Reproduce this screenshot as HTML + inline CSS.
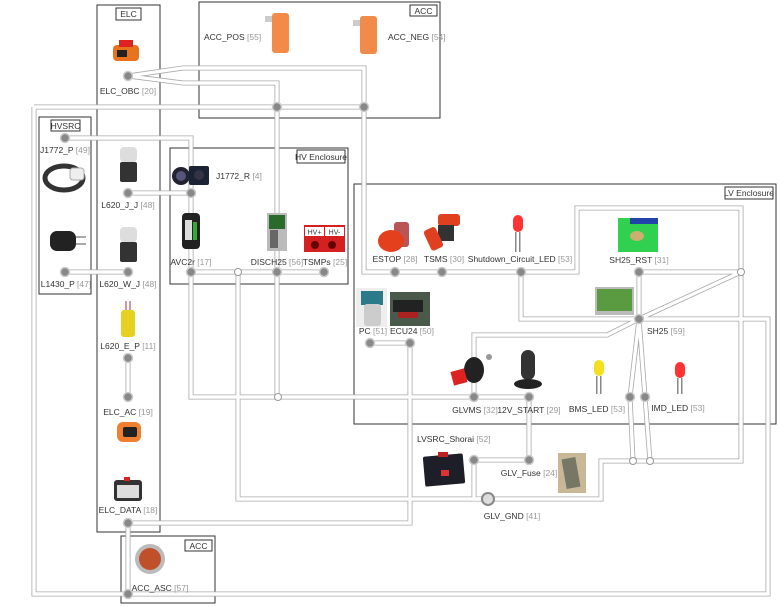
<!DOCTYPE html>
<html><head><meta charset="utf-8"><style>
html,body{margin:0;padding:0;background:#fff}
svg{display:block}
text{font-family:"Liberation Sans",sans-serif;font-size:8.5px;fill:#333}
.n{fill:#999}
.box{fill:none;stroke:#333;stroke-width:1}
.tt{fill:#fff;stroke:#333;stroke-width:1}
</style></head><body>
<svg width="780" height="607" viewBox="0 0 780 607">
<g>
<rect class="box" x="97" y="5" width="63" height="527"/>
<rect class="tt" x="116" y="8" width="25" height="12"/><text x="128.5" y="17" text-anchor="middle">ELC</text>
<rect class="box" x="199" y="2" width="241" height="116"/>
<rect class="tt" x="410" y="5" width="27" height="11"/><text x="423.5" y="14" text-anchor="middle">ACC</text>
<rect class="box" x="39" y="117" width="52" height="177"/>
<rect class="tt" x="51" y="120" width="29" height="11"/><text x="65.5" y="129" text-anchor="middle">HVSRC</text>
<rect class="box" x="170" y="148" width="178" height="136"/>
<rect class="tt" x="297" y="150" width="48" height="13"/><text x="321" y="160" text-anchor="middle">HV Enclosure</text>
<rect class="box" x="354" y="184" width="422" height="240"/>
<rect class="tt" x="725" y="187" width="48" height="12"/><text x="749" y="196" text-anchor="middle">LV Enclosure</text>
<rect class="box" x="121" y="536" width="94" height="67"/>
<rect class="tt" x="185" y="540" width="27" height="11"/><text x="198.5" y="549" text-anchor="middle">ACC</text>
</g>
<g id="wires" fill="none" stroke-linejoin="miter"></g>
<g id="nodes"></g>
<g>
<g><rect x="113" y="45" width="26" height="16" rx="4" fill="#e8731e"/><rect x="119" y="40" width="14" height="7" fill="#d22"/><rect x="117" y="50" width="10" height="7" fill="#222"/></g>
<g><rect x="265" y="16" width="8" height="6" fill="#ccc"/><rect x="272" y="13" width="17" height="40" rx="3" fill="#f28a4a"/></g>
<g><rect x="353" y="20" width="8" height="6" fill="#ccc"/><rect x="360" y="16" width="17" height="38" rx="3" fill="#f28a4a"/></g>
<g><ellipse cx="64" cy="178" rx="19" ry="12" fill="none" stroke="#333" stroke-width="5"/><rect x="70" y="168" width="14" height="12" rx="3" fill="#eee" stroke="#aaa"/></g>
<g><rect x="120" y="147" width="17" height="15" rx="4" fill="#ddd"/><rect x="120" y="162" width="17" height="20" rx="2" fill="#333"/></g>
<g><rect x="50" y="231" width="26" height="20" rx="7" fill="#222"/><rect x="76" y="236" width="10" height="2" fill="#aaa"/><rect x="76" y="243" width="10" height="2" fill="#aaa"/></g>
<g><rect x="120" y="227" width="17" height="15" rx="4" fill="#ddd"/><rect x="120" y="242" width="17" height="20" rx="2" fill="#333"/></g>
<g><rect x="121" y="310" width="14" height="27" rx="3" fill="#e8d020"/><rect x="125" y="301" width="2" height="9" fill="#c9a"/><rect x="129" y="301" width="2" height="9" fill="#c9a"/></g>
<g><rect x="117" y="422" width="24" height="20" rx="6" fill="#f08030"/><rect x="123" y="427" width="14" height="10" rx="2" fill="#222"/></g>
<g><rect x="114" y="480" width="28" height="21" rx="3" fill="#333"/><rect x="117" y="485" width="22" height="13" fill="#ddd"/><rect x="124" y="477" width="6" height="4" fill="#d22"/></g>
<g><circle cx="150" cy="559" r="15" fill="#bbb"/><circle cx="150" cy="559" r="11" fill="#c0502a"/></g>
<g><ellipse cx="181" cy="176" rx="9" ry="9" fill="#223"/><circle cx="181" cy="176" r="5" fill="#557"/><rect x="189" y="166" width="20" height="19" rx="2" fill="#1a2233"/><circle cx="199" cy="175" r="5" fill="#334"/></g>
<g><rect x="182" y="213" width="18" height="36" rx="4" fill="#222"/><rect x="185" y="220" width="7" height="20" fill="#ddd"/><rect x="193" y="222" width="4" height="18" fill="#3a3"/></g>
<g><rect x="267" y="213" width="20" height="38" fill="#bbb"/><rect x="269" y="215" width="16" height="14" fill="#2a6a2a"/><rect x="270" y="230" width="8" height="18" fill="#666"/></g>
<g><rect x="304" y="225" width="41" height="27" fill="#d42020"/><rect x="305" y="227" width="19" height="9" fill="#fff"/><rect x="325" y="227" width="19" height="9" fill="#fff"/><text x="314.5" y="234.5" text-anchor="middle" style="font-size:7px">HV+</text><text x="334.5" y="234.5" text-anchor="middle" style="font-size:7px">HV-</text><circle cx="315" cy="245" r="4" fill="#600"/><circle cx="332" cy="245" r="4" fill="#600"/></g>
<g><rect x="394" y="222" width="15" height="25" rx="3" fill="#b55"/><ellipse cx="391" cy="241" rx="13" ry="11" fill="#e5401e"/></g>
<g><rect x="438" y="214" width="22" height="12" rx="3" fill="#e04020"/><rect x="438" y="225" width="16" height="16" fill="#333"/><rect x="427" y="228" width="13" height="22" rx="3" fill="#e04020" transform="rotate(-25 433 239)"/></g>
<g><rect x="513" y="215" width="10" height="17" rx="5" fill="#f33"/><rect x="515" y="232" width="1.5" height="20" fill="#888"/><rect x="519" y="232" width="1.5" height="20" fill="#888"/></g>
<g><rect x="618" y="218" width="40" height="34" fill="#30d050"/><rect x="630" y="218" width="28" height="6" fill="#2244aa"/><ellipse cx="637" cy="236" rx="7" ry="5" fill="#c9b070"/></g>
<g><rect x="595" y="287" width="39" height="28" fill="#bbb"/><rect x="597" y="289" width="35" height="22" fill="#5a9a40"/></g>
<g><rect x="356" y="288" width="31" height="39" fill="#eee"/><rect x="361" y="291" width="22" height="14" fill="#2a7a8a"/><rect x="364" y="304" width="17" height="22" rx="3" fill="#ccc"/></g>
<g><rect x="390" y="292" width="40" height="34" fill="#4a5a4a"/><rect x="393" y="300" width="30" height="12" fill="#222"/><rect x="398" y="312" width="20" height="6" fill="#a22"/></g>
<g><ellipse cx="474" cy="370" rx="10" ry="13" fill="#222"/><rect x="452" y="370" width="14" height="14" fill="#d22" transform="rotate(-15 459 377)"/><circle cx="489" cy="357" r="3" fill="#999"/></g>
<g><rect x="521" y="350" width="14" height="30" rx="7" fill="#333"/><ellipse cx="528" cy="384" rx="14" ry="5" fill="#222"/></g>
<g><rect x="594" y="360" width="10" height="16" rx="5" fill="#f5e020"/><rect x="596" y="376" width="1.5" height="18" fill="#888"/><rect x="600" y="376" width="1.5" height="18" fill="#888"/></g>
<g><rect x="675" y="362" width="10" height="16" rx="5" fill="#f33"/><rect x="677" y="378" width="1.5" height="16" fill="#888"/><rect x="681" y="378" width="1.5" height="16" fill="#888"/></g>
<g><rect x="424" y="455" width="40" height="30" rx="2" fill="#1e1e28" transform="rotate(-5 444 470)"/><rect x="438" y="452" width="10" height="5" fill="#b22"/><rect x="441" y="470" width="8" height="6" fill="#d33"/></g>
<g><rect x="558" y="453" width="28" height="40" fill="#c8b898"/><rect x="564" y="458" width="14" height="30" fill="#776" transform="rotate(-10 571 473)"/></g>
</g>
<g>
<text x="128" y="94" text-anchor="middle">ELC_OBC <tspan class="n">[20]</tspan></text>
<text x="204" y="40">ACC_POS <tspan class="n">[55]</tspan></text>
<text x="388" y="40">ACC_NEG <tspan class="n">[54]</tspan></text>
<text x="65" y="153" text-anchor="middle">J1772_P <tspan class="n">[49]</tspan></text>
<text x="128" y="208" text-anchor="middle">L620_J_J <tspan class="n">[48]</tspan></text>
<text x="216" y="179">J1772_R <tspan class="n">[4]</tspan></text>
<text x="66" y="287" text-anchor="middle">L1430_P <tspan class="n">[47]</tspan></text>
<text x="128" y="287" text-anchor="middle">L620_W_J <tspan class="n">[48]</tspan></text>
<text x="191" y="265" text-anchor="middle">AVC2r <tspan class="n">[17]</tspan></text>
<text x="277" y="265" text-anchor="middle">DISCH25 <tspan class="n">[56]</tspan></text>
<text x="325" y="265" text-anchor="middle">TSMPs <tspan class="n">[25]</tspan></text>
<text x="395" y="262" text-anchor="middle">ESTOP <tspan class="n">[28]</tspan></text>
<text x="444" y="262" text-anchor="middle">TSMS <tspan class="n">[30]</tspan></text>
<text x="520" y="262" text-anchor="middle">Shutdown_Circuit_LED <tspan class="n">[53]</tspan></text>
<text x="639" y="263" text-anchor="middle">SH25_RST <tspan class="n">[31]</tspan></text>
<text x="647" y="334">SH25 <tspan class="n">[59]</tspan></text>
<text x="373" y="334" text-anchor="middle">PC <tspan class="n">[51]</tspan></text>
<text x="412" y="334" text-anchor="middle">ECU24 <tspan class="n">[50]</tspan></text>
<text x="128" y="349" text-anchor="middle">L620_E_P <tspan class="n">[11]</tspan></text>
<text x="128" y="415" text-anchor="middle">ELC_AC <tspan class="n">[19]</tspan></text>
<text x="475" y="413" text-anchor="middle">GLVMS <tspan class="n">[32]</tspan></text>
<text x="529" y="413" text-anchor="middle">12V_START <tspan class="n">[29]</tspan></text>
<text x="597" y="412" text-anchor="middle">BMS_LED <tspan class="n">[53]</tspan></text>
<text x="678" y="411" text-anchor="middle">IMD_LED <tspan class="n">[53]</tspan></text>
<text x="417" y="442">LVSRC_Shorai <tspan class="n">[52]</tspan></text>
<text x="529" y="476" text-anchor="middle">GLV_Fuse <tspan class="n">[24]</tspan></text>
<text x="512" y="519" text-anchor="middle">GLV_GND <tspan class="n">[41]</tspan></text>
<text x="128" y="513" text-anchor="middle">ELC_DATA <tspan class="n">[18]</tspan></text>
<text x="160" y="591" text-anchor="middle">ACC_ASC <tspan class="n">[57]</tspan></text>
</g>
</svg>
<script>
const wirePaths = [
 "M128,76 L183,68 L364,68 L364,107",
 "M128,76 L183,83 L277,83 L277,107",
 "M34,107 L364,107",
 "M34,107 L34,594 L768,594 L768,319 L521,319 L521,272",
 "M364,107 L364,272 L577,272 L577,208 L741,208 L741,272 L741,461 L601,461 L601,499 L238,499 L238,272",
 "M65,138 L191,138 L191,193 L128,193",
 "M191,193 L191,272 L324,272",
 "M65,272 L128,272",
 "M277,107 L277,272",
 "M191,272 L191,397 L529,397",
 "M277,272 L277,397",
 "M639,272 L741,272",
 "M639,272 L639,319",
 "M639,319 L741,272",
 "M639,319 L607,335 L474,335 L474,397",
 "M639,319 L630,397 L633,461",
 "M639,319 L645,397 L650,461",
 "M370,343 L410,343 L410,523 L128,523 L128,594",
 "M128,358 L128,397",
 "M529,397 L529,460 L474,460 L474,499 L488,499"
];
const nodePts = [[128,76],[277,107],[364,107],[65,138],[128,193],[191,193],[65,272],[128,272],[191,272],[277,272],[324,272],[395,272],[442,272],[521,272],[639,272],[639,319],[370,343],[410,343],[474,397],[529,397],[630,397],[645,397],[474,460],[529,460],[128,358],[128,397],[128,523],[128,594]];
const whitePts = [[238,272],[741,272],[633,461],[650,461],[278,397]];
const NS="http://www.w3.org/2000/svg";
const wg=document.getElementById('wires');
wirePaths.forEach(d=>{
 const a=document.createElementNS(NS,'path');a.setAttribute('d',d);a.setAttribute('stroke','#aaa');a.setAttribute('stroke-width','5');
 
 
 wg.appendChild(a);
});
wirePaths.forEach(d=>{
 const b=document.createElementNS(NS,'path');b.setAttribute('d',d);b.setAttribute('stroke','#fff');b.setAttribute('stroke-width','3.4');
 
 
 wg.appendChild(b);
});
const ng=document.getElementById('nodes');
nodePts.forEach(p=>{
 const c=document.createElementNS(NS,'circle');c.setAttribute('cx',p[0]);c.setAttribute('cy',p[1]);c.setAttribute('r','4.5');c.setAttribute('fill','#888');c.setAttribute('stroke','#ccc');c.setAttribute('stroke-width','1.5');
 
 
 ng.appendChild(c);
});
whitePts.forEach(p=>{
 const c=document.createElementNS(NS,'circle');c.setAttribute('cx',p[0]);c.setAttribute('cy',p[1]);c.setAttribute('r','3.5');c.setAttribute('fill','#fff');c.setAttribute('stroke','#999');c.setAttribute('stroke-width','1');
 
 
 ng.appendChild(c);
});
const g=document.createElementNS(NS,'circle');g.setAttribute('cx',488);g.setAttribute('cy',499);g.setAttribute('r','6');g.setAttribute('fill','#ddd');g.setAttribute('stroke','#888');g.setAttribute('stroke-width','2');


ng.appendChild(g);
</script>
</body></html>
